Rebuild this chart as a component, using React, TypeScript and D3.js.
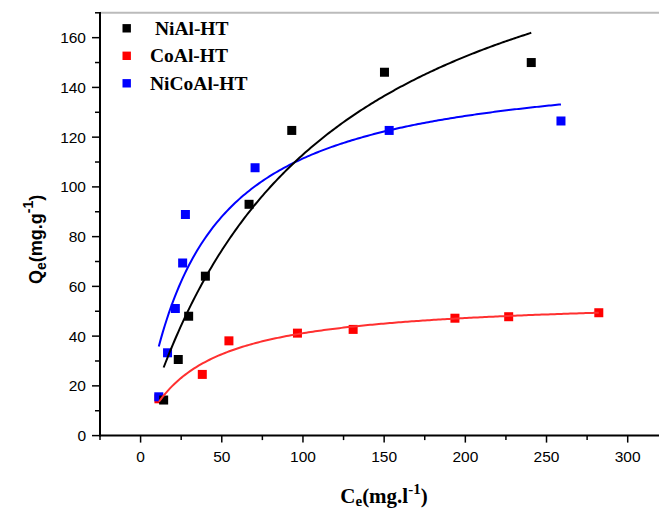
import React from "react";
import * as d3 from "d3";

const seriesNames = [" NiAl-HT", "CoAl-HT", "NiCoAl-HT"];
const seriesColors = ["#000000", "#ff0000", "#0000ff"];
const curveColors = ["#000000", "#ff3030", "#0000ff"];

const niAlCe = [14.2, 23.2, 29.6, 39.9, 66.8, 93.1, 150.2, 240.6];
const niAlQe = [14.3, 30.6, 48.0, 64.1, 93.0, 122.7, 146.1, 150.0];

const coAlCe = [11.3, 38.0, 54.4, 96.6, 130.9, 193.6, 226.7, 282.2];
const coAlQe = [14.8, 24.6, 38.1, 41.2, 42.7, 47.2, 47.8, 49.4];

const niCoAlCe = [11.2, 16.6, 21.4, 25.9, 27.6, 70.5, 153.1, 258.9];
const niCoAlQe = [15.6, 33.3, 51.1, 69.4, 88.9, 107.7, 122.7, 126.5];

// Langmuir fit parameters (qm, KL)
const fitQm = [234.1, 55.5, 151.8];
const fitK = [0.00933, 0.02873, 0.0276];

const xTicks = [0, 50, 100, 150, 200, 250, 300];
const xMinorTicks = [-25, 25, 75, 125, 175, 225, 275, 325];
const yTicks = [0, 20, 40, 60, 80, 100, 120, 140, 160];
const yMinorTicks = [10, 30, 50, 70, 90, 110, 130, 150, 170];

const W = 659;
const H = 511;

export default function App() {
  const x = d3.scaleLinear().domain([-25, 325]).range([100, 100 + 350 * 1.6237]);
  const y = d3.scaleLinear().domain([0, 170]).range([435.6, 12.8]);

  const series = [
    { ce: niAlCe, qe: niAlQe },
    { ce: coAlCe, qe: coAlQe },
    { ce: niCoAlCe, qe: niCoAlQe },
  ];

  const line = d3
    .line<[number, number]>()
    .x((d) => x(d[0]))
    .y((d) => y(d[1]))
    .curve(d3.curveLinear);

  const curves = series.map((s, i) => {
    const [lo, hi] = d3.extent(s.ce) as [number, number];
    const pts: [number, number][] = d3.range(0, 201).map((k) => {
      const c = lo + ((hi - lo) * k) / 200;
      return [c, (fitQm[i] * fitK[i] * c) / (1 + fitK[i] * c)];
    });
    return line(pts) || "";
  });

  const ms = 9;
  const drawOrder = [1, 2, 0];
  const curveOrder = [2, 0, 1];
  const sans = "'Liberation Sans', Arial, sans-serif";
  const serif = "'Liberation Serif', 'Times New Roman', serif";

  return (
    <svg
      width={W}
      height={H}
      style={{ position: "absolute", left: 0, top: 0, background: "#fff" }}
    >
      <rect x={0} y={0} width={W} height={H} fill="#fff" />
      {/* top frame line */}
      <line x1={100} x2={W} y1={12.8} y2={12.8} stroke="#bbbbbb" strokeWidth={2} />

      {/* points */}
      {drawOrder.map((i) =>
        series[i].ce.map((c, j) => (
          <rect
            key={`p${i}-${j}`}
            x={x(c) - ms / 2}
            y={y(series[i].qe[j]) - ms / 2}
            width={ms}
            height={ms}
            fill={seriesColors[i]}
          />
        ))
      )}

      {/* fitted curves */}
      {curveOrder.map((i) => (
        <path key={`c${i}`} d={curves[i]} fill="none" stroke={curveColors[i]} strokeWidth={2} />
      ))}

      {/* axes */}
      <line x1={100} x2={W} y1={y(0)} y2={y(0)} stroke="#000" strokeWidth={2} />
      <line x1={100} x2={100} y1={12} y2={y(0) + 1} stroke="#000" strokeWidth={2} />

      {xTicks.map((t) => (
        <g key={`xt${t}`}>
          <line x1={x(t)} x2={x(t)} y1={y(0)} y2={y(0) + 7} stroke="#000" strokeWidth={1.5} />
          <text
            x={x(t)}
            y={462}
            textAnchor="middle"
            fontFamily={sans}
            fontSize={15.5}
            fill="#000"
          >
            {t}
          </text>
        </g>
      ))}
      {xMinorTicks.map((t) => (
        <line key={`xm${t}`} x1={x(t)} x2={x(t)} y1={y(0)} y2={y(0) + 4.5} stroke="#000" strokeWidth={1.5} />
      ))}

      {yTicks.map((t) => (
        <g key={`yt${t}`}>
          <line x1={100} x2={92} y1={y(t)} y2={y(t)} stroke="#000" strokeWidth={1.5} />
          <text
            x={86}
            y={y(t) + 5.4}
            textAnchor="end"
            fontFamily={sans}
            fontSize={15.5}
            fill="#000"
          >
            {t}
          </text>
        </g>
      ))}
      {yMinorTicks.map((t) => (
        <line key={`ym${t}`} x1={100} x2={95} y1={y(t)} y2={y(t)} stroke="#000" strokeWidth={1.5} />
      ))}

      {/* y label */}
      <text
        transform="translate(42,284) rotate(-90)"
        fontFamily={sans}
        fontWeight="bold"
        fontSize={18}
        fill="#000"
      >
        Q
        <tspan fontSize={14} dy={4}>e</tspan>
        <tspan dy={-4}>(mg.g</tspan>
        <tspan fontSize={14} dy={-9}>-1</tspan>
        <tspan dy={9}>)</tspan>
      </text>

      {/* x label */}
      <text
        x={384}
        y={503}
        textAnchor="middle"
        fontFamily={serif}
        fontWeight="bold"
        fontSize={21}
        fill="#000"
      >
        C
        <tspan fontSize={15} dy={3}>e</tspan>
        <tspan dy={-3}>(mg.l</tspan>
        <tspan fontSize={15} dy={-9}>-1</tspan>
        <tspan dy={9}>)</tspan>
      </text>

      {/* legend */}
      {seriesNames.map((name, i) => (
        <g key={`lg${i}`}>
          <rect
            x={126.7 - 4.2}
            y={28.3 + i * 27.5 - 4.2}
            width={8.4}
            height={8.4}
            fill={seriesColors[i]}
          />
          <text
            x={150}
            y={34.5 + i * 27.5}
            fontFamily={serif}
            fontWeight="bold"
            fontSize={19.5}
            fill="#000"
            style={{ whiteSpace: "pre" }}
          >
            {name}
          </text>
        </g>
      ))}
    </svg>
  );
}
